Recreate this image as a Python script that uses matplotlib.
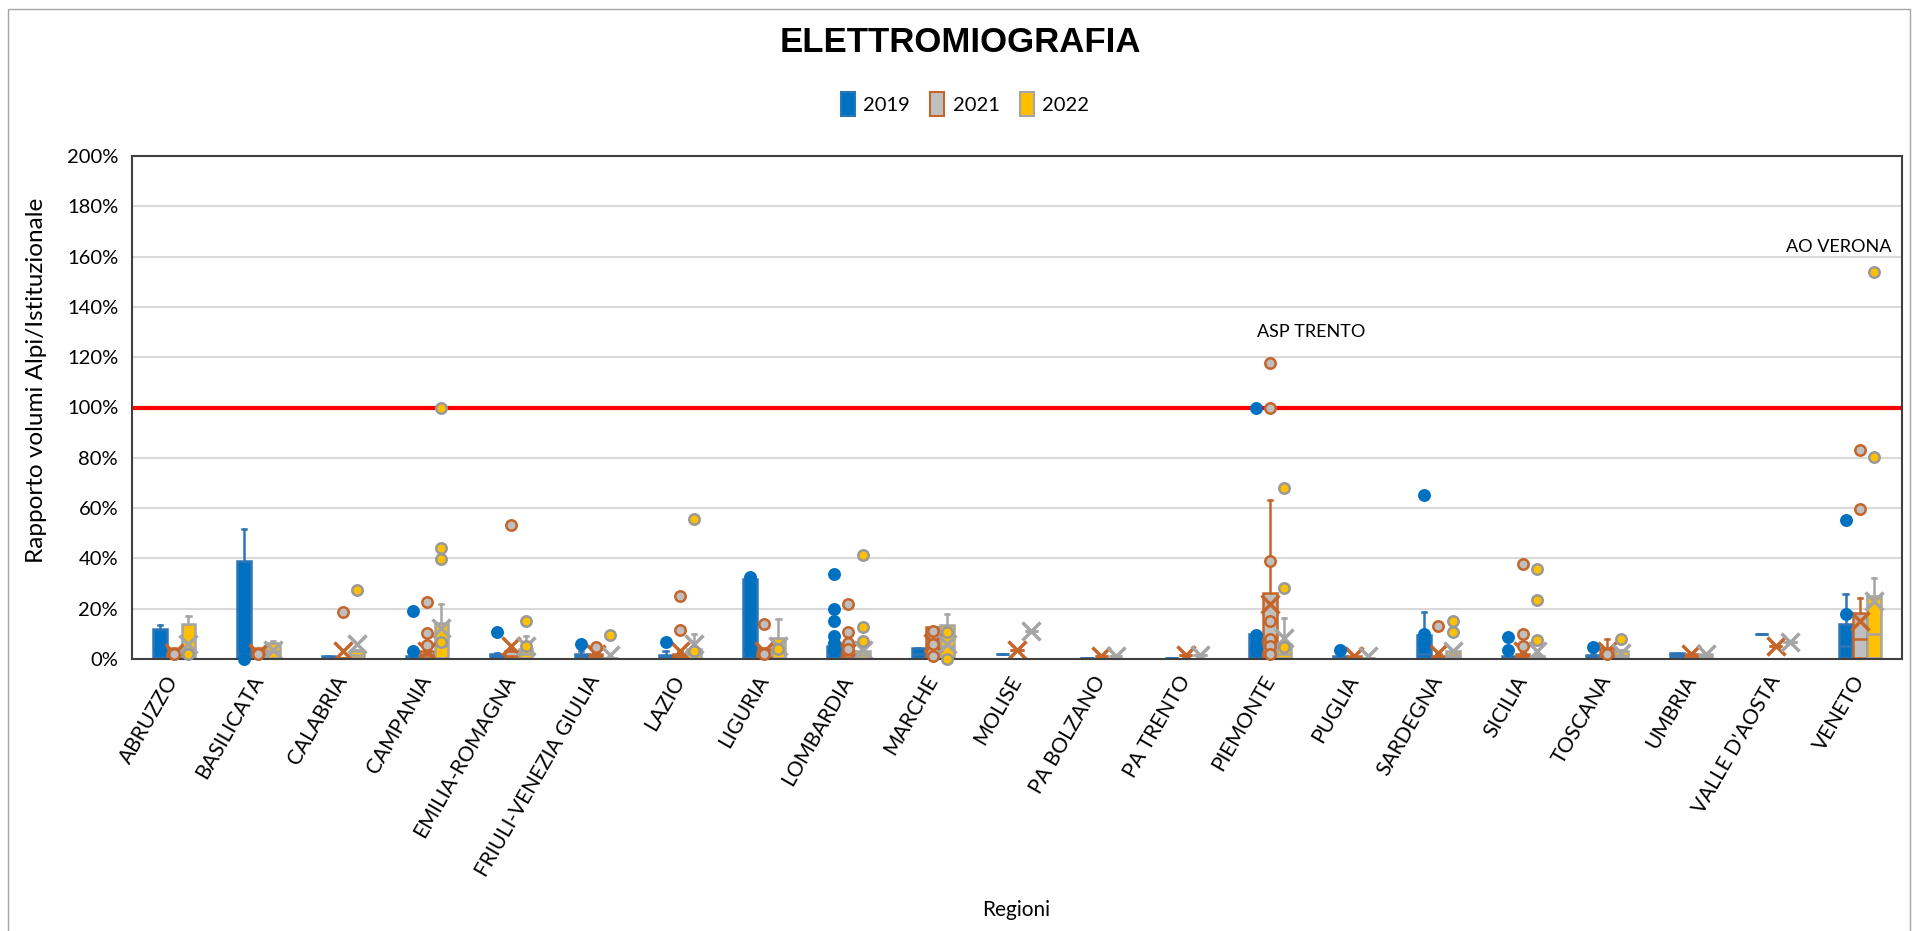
import matplotlib.pyplot as plt
from matplotlib.patches import Patch, Rectangle

plt.rcParams['font.family'] = ['Lato', 'DejaVu Sans']

regions = ['ABRUZZO', 'BASILICATA', 'CALABRIA', 'CAMPANIA', 'EMILIA-ROMAGNA',
           'FRIULI-VENEZIA GIULIA', 'LAZIO', 'LIGURIA', 'LOMBARDIA', 'MARCHE',
           'MOLISE', 'PA BOLZANO', 'PA TRENTO', 'PIEMONTE', 'PUGLIA', 'SARDEGNA',
           'SICILIA', 'TOSCANA', 'UMBRIA', "VALLE D'AOSTA", 'VENETO']
years = ['2019', '2021', '2022']

# (whisker low, q1, median, q3, whisker high, mean) in %
box_2019 = [(0, 0.5, 3.5, 12, 13.5, 6), (0, 0.5, 2, 39, 51.5, 20), (0.5, 0.5, 0.8, 1, 1, 0.8),
            (0, 0.2, 0.5, 1, 1.5, 2), (0, 0.5, 1, 2, 2.5, 2), (0, 0.5, 1, 2, 3, 1.5),
            (0, 0.5, 1, 1.5, 3, 1.5), (0, 0.5, 4, 32, 32.5, 15), (0, 0.5, 2, 5, 6, 5),
            (0.5, 0.5, 2, 4.5, 4.5, 2.5), (2, 2, 2, 2, 2, 2), (0, 0.2, 0.3, 0.5, 0.5, 0.3),
            (0, 0.2, 0.3, 0.5, 0.5, 0.3), (0, 0.5, 4, 10, 10, 5), (0, 0.3, 0.5, 1, 1, 0.6),
            (0, 0.5, 2, 9.6, 18.6, 6), (0, 0.2, 0.5, 1, 1.5, 1), (0, 0.5, 1, 1.5, 2, 1),
            (0.5, 0.8, 1.5, 2.4, 2.4, 1.6), (10, 10, 10, 10, 10, 10), (0, 0.5, 5, 14, 26, 8)]
box_2021 = [(0, 0.5, 2, 4, 4.5, 2.5), (0, 0.5, 2, 4, 4.5, 2.5), (0, 0, 0.2, 0.5, 0.5, 3),
            (0, 0.5, 1.5, 3, 4, 3), (0, 0.5, 1, 3, 4, 5), (0, 0.3, 1, 2, 2.5, 2),
            (0, 0.3, 1, 2, 3, 3), (0, 0.5, 2, 4, 4.5, 3), (0, 0.3, 1.5, 3, 4, 3),
            (0, 0.5, 5, 12.8, 12.8, 6.4), (3.6, 3.6, 3.6, 3.6, 3.6, 3.6), (1, 1, 1, 1, 1, 1),
            (1.5, 1.5, 1.5, 1.5, 1.5, 1.5), (0, 0.5, 6, 26.4, 63.2, 22), (0, 0.2, 0.5, 1, 1, 1.3),
            (0, 0.2, 0.5, 1, 2, 2.5), (0, 0.3, 1, 2, 3, 3), (0, 0.5, 2, 4.5, 8, 3),
            (0, 0.5, 1, 2, 2.5, 1.8), (5.2, 5.2, 5.2, 5.2, 5.2, 5.2), (0, 0.5, 8, 18.4, 24.4, 15)]
box_2022 = [(0, 0.5, 3, 14, 17, 6), (0, 0.5, 3, 6.4, 7, 3.5), (0, 0.5, 1.5, 3, 3.5, 6),
            (0, 0.5, 5, 14.5, 22, 12.4), (0, 0.5, 2, 4, 9, 5), (0, 0, 0.2, 0.5, 0.5, 1.5),
            (0, 0.5, 2, 4, 10, 6), (0, 0.5, 3, 8.4, 16, 5), (0, 0.3, 1.5, 3, 4, 3.5),
            (0, 0.5, 5, 13.6, 18, 6), (11.3, 11.3, 11.3, 11.3, 11.3, 11.3), (1, 1, 1, 1, 1, 1),
            (1.5, 1.5, 1.5, 1.5, 1.5, 1.5), (0, 0.5, 2, 6, 16.4, 8.4), (0, 0.2, 0.3, 0.5, 0.5, 1.2),
            (0, 0.3, 1, 3, 3.5, 3), (0, 0.2, 0.5, 1, 2, 3), (0, 0.3, 1, 3, 3.5, 2.5),
            (0, 0.3, 1, 2, 2.5, 1.8), (6.8, 6.8, 6.8, 6.8, 6.8, 6.8), (0, 0.5, 10, 25.2, 32.4, 23)]

# single points shown as circles (inner points and outliers), in %
pts_2019 = [[3.5], [0], [], [19, 3.2], [10.8], [6], [6.8], [32.5, 4], [33.6, 20, 15, 9.2, 6.4, 3.5],
            [], [], [], [], [100, 9.6, 4.4], [3.6], [65.2, 10, 6], [8.8, 3.6], [4.8], [], [], [55.2, 18]]
pts_2021 = [[2], [2], [18.6], [22.5, 10.4, 5.6], [53.2], [4.8], [25.2, 11.6], [14, 2],
            [22, 10.8, 6.4, 4], [11, 6, 1], [], [], [], [117.6, 100, 39, 15, 8, 5, 2], [], [13.2],
            [37.6, 10, 5], [2], [], [], [83.3, 59.6]]
pts_2022 = [[2], [], [27.6], [100, 44, 39.6, 6.8], [15.3, 5], [9.6], [55.6, 3], [4],
            [41.2, 12.8, 7.1], [10.6, 0], [], [], [], [68, 28.4, 4.8], [], [15.2, 10.8],
            [35.6, 23.6, 7.6], [8], [], [], [154, 80.5]]

fig = plt.figure(figsize=(19.14, 9.31), dpi=100)
ax = fig.add_axes([132 / 1914, 1 - 659 / 931, 1770 / 1914, 503 / 931])

series = [
    (box_2019, pts_2019, '#0070C0', '#2E75B6', '#0070C0', '#0070C0', False, -0.17),
    (box_2021, pts_2021, '#BFBFBF', '#C5652A', '#BFBFBF', '#C5652A', True, 0.0),
    (box_2022, pts_2022, '#FFC000', '#A5A5A5', '#FFC000', '#999999', True, 0.17),
]
n = len(regions)
for boxes, pts, fc, ec, pfc, pec, show_mean, off in series:
    stats = [dict(whislo=b[0], q1=b[1], med=b[2], q3=b[3], whishi=b[4], mean=b[5], fliers=[])
             for b in boxes]
    pos = [i + off for i in range(n)]
    ax.bxp(stats, positions=pos, widths=0.16, patch_artist=True, showmeans=show_mean,
           showfliers=False, manage_ticks=False, capwidths=0.05,
           boxprops=dict(facecolor=fc, edgecolor=ec, linewidth=1.8),
           whiskerprops=dict(color=ec, linewidth=1.8),
           capprops=dict(color=ec, linewidth=1.8),
           medianprops=dict(color=ec, linewidth=1.8),
           meanprops=dict(marker='x', markeredgecolor=ec, markersize=13, markeredgewidth=2.5))
    for i, p in enumerate(pts):
        ax.plot([pos[i]] * len(p), p, 'o', mfc=pfc, mec=pec, ms=7.5, mew=1.8,
                ls='none', clip_on=False, zorder=5)

ax.axhline(100, color='#FF0000', lw=3, zorder=2.5)

ax.set_xlim(-0.5, n - 0.5)
ax.set_ylim(0, 200)
ax.set_yticks(range(0, 201, 20))
ax.set_yticklabels([f'{v}%' for v in range(0, 201, 20)], fontsize=14.5)
ax.set_xticks(range(n))
ax.set_xticklabels(regions, rotation=60, rotation_mode='anchor', ha='right', va='center',
                   fontsize=15)
ax.tick_params(axis='both', length=0)
ax.tick_params(axis='y', pad=10)
ax.tick_params(axis='x', pad=13)
ax.yaxis.grid(True, color='#D9D9D9', lw=1.5)
ax.set_axisbelow(True)
for s in ax.spines.values():
    s.set_color('#404040')
    s.set_linewidth(1.5)

ax.text(13.49, 130, 'ASP TRENTO', ha='center', va='center', fontsize=13)
ax.text(19.75, 164, 'AO VERONA', ha='center', va='center', fontsize=13)

fig.text(0.5016, 1 - 43 / 931, 'ELETTROMIOGRAFIA', ha='center', va='center',
         fontsize=25, fontweight='bold', family='Liberation Sans')
handles = [Patch(facecolor='#0070C0', edgecolor='#2E75B6', lw=1.5, label='2019'),
           Patch(facecolor='#BFBFBF', edgecolor='#C5652A', lw=1.5, label='2021'),
           Patch(facecolor='#FFC000', edgecolor='#A5A5A5', lw=1.5, label='2022')]
fig.legend(handles=handles, loc='center', bbox_to_anchor=(965 / 1914, 1 - 104 / 931), ncol=3,
           frameon=False, fontsize=14.5, handlelength=0.7, handleheight=1.4,
           handletextpad=0.4, columnspacing=1.0)
fig.text(37 / 1914, 1 - 380 / 931, 'Rapporto volumi Alpi/Istituzionale', rotation=90,
         ha='center', va='center', fontsize=17.5)
fig.text(1016 / 1914, 1 - 910 / 931, 'Regioni', ha='center', va='center', fontsize=15)

fig.patches.append(Rectangle((8 / 1914, -0.05), 1902 / 1914, 1.05 - 9 / 931,
                             transform=fig.transFigure, fill=False, ec='#A6A6A6', lw=1))

fig.savefig('out.png', dpi=100)
